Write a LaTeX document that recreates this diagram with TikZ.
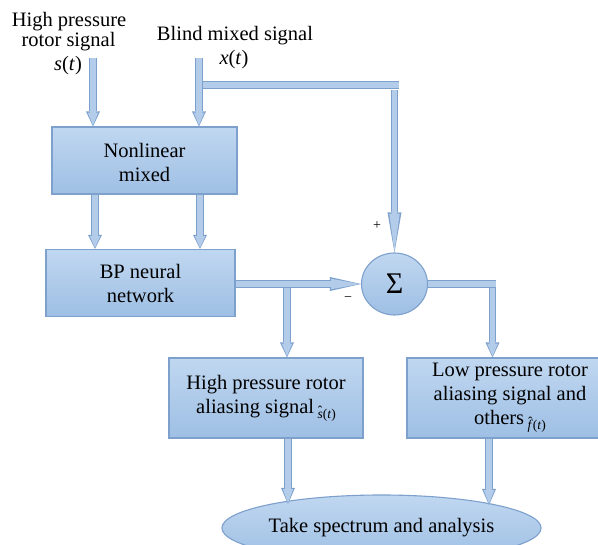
\documentclass[tikz,border=0pt]{standalone}
\usepackage{fontspec}
\setmainfont{Liberation Serif}
\usetikzlibrary{arrows.meta,shapes.geometric}
\definecolor{boxtop}{RGB}{192,215,240}
\definecolor{boxbot}{RGB}{158,191,228}
\definecolor{edge}{RGB}{125,160,205}
\definecolor{afill}{RGB}{178,204,234}
\newcommand{\hatted}[1]{\ooalign{\textit{#1}\cr\hidewidth\raisebox{3pt}{ˆ}\hidewidth\cr}}
\newcommand{\smallsig}[1]{\raisebox{-5pt}{\fontsize{13.5}{13.5}\selectfont\hatted{#1}(\textit{t})}}
\begin{document}
\begin{tikzpicture}[x=1pt,y=-1pt,
  every node/.style={font=\fontsize{20.5}{24}\selectfont, inner sep=0pt},
  box/.style={draw=edge, line width=1.1pt, top color=boxtop, bottom color=boxbot, align=center},
  lbl/.style={anchor=base},
  sign/.style={font=\fontsize{14}{14}\selectfont},
  shaft/.style={preaction={draw=edge,line width=7.5pt}, draw=afill, line width=5.5pt},
  barrow/.style 2 args={preaction={draw=edge,line width=7.5pt,-{Triangle[length=#1,width=14pt,line width=0pt]},shorten >=0pt},
     draw=afill, line width=5.5pt, -{Triangle[length=#2,width=10.5pt,line width=0pt]}, shorten >=1.2pt}]
\useasboundingbox (0,0) rectangle (598,545);

% nodes
\node[box, minimum width=185pt, minimum height=67pt] (nl) at (144.5,160.5) {\rule{0pt}{18pt}Nonlinear\\mixed};
\node[box, minimum width=189pt, minimum height=67pt] (bp) at (140.5,283) {BP neural\\network};
\node[box, ellipse, minimum width=66pt, minimum height=62pt, font=\fontsize{30}{30}\selectfont] (sig) at (394.5,284) {Σ};
\node[box, minimum width=194pt, minimum height=80pt] (hp) at (266,398) {High pressure rotor\\aliasing signal\,\smallsig{s}};
\node[box, minimum width=206pt, minimum height=80pt] (lp) at (510,398) {Low pressure rotor\\aliasing signal and\\others\,\smallsig{f}};
\node[box, ellipse, minimum width=277pt, minimum height=66pt] (ta) at (381.5,528) {Take spectrum and analysis};

% labels
\node[lbl] (t1) at (69,27) {High pressure};
\node[lbl] (t2) at (68.5,47) {rotor signal};
\node[lbl] (t3) at (68,70.5) {\textit{s}(\textit{t})};
\node[lbl] (t4) at (235,41) {Blind mixed signal};
\node[lbl] (t5) at (234,64.5) {\textit{x}(\textit{t})};
\node[sign] (plus) at (377,226) {+};
\node[sign] (minus) at (348,299) {−};

% coordinates
\coordinate (s0) at (93,58);
\coordinate (x0) at (199,58);
\coordinate (xb) at (199,85);
\coordinate (xe) at (398.5,85);
\coordinate (xd) at (394.5,90);
\coordinate (a1) at (95,0);
\coordinate (a2) at (200,0);
\coordinate (j1) at (287,284);
\coordinate (o1) at (496,284);
\coordinate (o2) at (492.5,288);
\coordinate (e1) at (288,504);
\coordinate (e2) at (489,505);

% connectors
\draw[shaft] (xb) -- (xe);
\draw[barrow={15pt}{12.6pt}] (s0) -- (s0 |- nl.north);
\draw[barrow={15pt}{12.6pt}] (x0) -- (x0 |- nl.north);
\draw[barrow={40pt}{37.6pt}] (xd) -- (xd |- sig.north);
\draw[barrow={14pt}{11.6pt}] (nl.south -| a1) -- (bp.north -| a1);
\draw[barrow={14pt}{11.6pt}] (nl.south -| a2) -- (bp.north -| a2);
\draw[barrow={15pt}{12.6pt}] (j1) -- (j1 |- hp.north);
\draw[barrow={31pt}{28.6pt}] (bp.east |- sig.west) -- (sig.west);
\draw[shaft] (sig.east) -- (o1);
\draw[barrow={15pt}{12.6pt}] (o2) -- (o2 |- lp.north);
\draw[barrow={16pt}{13.6pt}] (e1 |- hp.south) -- (e1);
\draw[barrow={16pt}{13.6pt}] (e2 |- lp.south) -- (e2);
\end{tikzpicture}
\end{document}
